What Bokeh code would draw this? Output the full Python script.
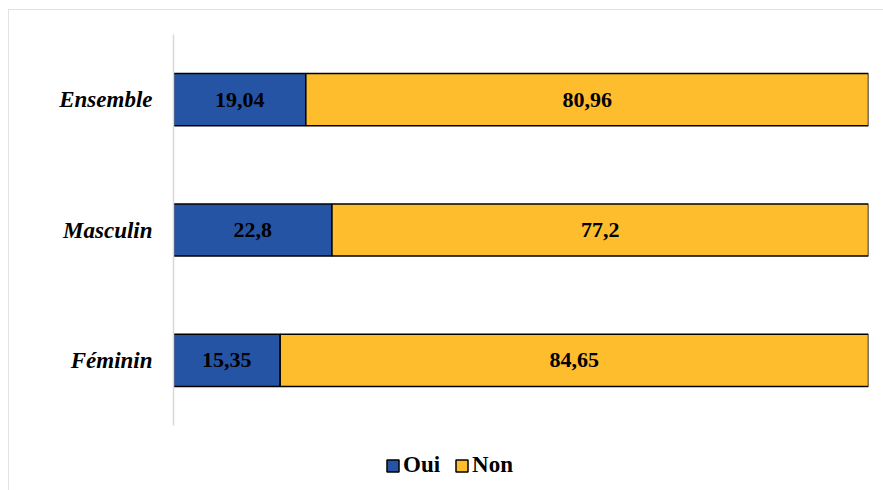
from bokeh.plotting import figure
from bokeh.models import ColumnDataSource, Legend, LegendItem, LabelSet, Range1d, FactorRange
from bokeh.layouts import column
from bokeh.embed import file_html
from bokeh.resources import INLINE

categories = ["Féminin", "Masculin", "Ensemble"]
oui = [15.35, 22.8, 19.04]
non = [84.65, 77.2, 80.96]
series = ["Oui", "Non"]
colors = ["#2554A4", "#FEBD2C"]

FONT = "Liberation Serif"

def fmt(v):
    s = ("%.2f" % v).rstrip("0").rstrip(".")
    return s.replace(".", ",")

src = ColumnDataSource(dict(
    cat=categories, Oui=oui, Non=non,
    oui_mid=[o / 2 for o in oui],
    non_mid=[o + n / 2 for o, n in zip(oui, non)],
    oui_lbl=[fmt(v) for v in oui],
    non_lbl=[fmt(v) for v in non],
))

p = figure(y_range=categories, x_range=(0, 100), width=874, height=420,
           output_backend="svg", toolbar_location=None,
           min_border_left=164, min_border_right=15, min_border_top=24, min_border_bottom=5)
p.outline_line_color = None

rs = p.hbar_stack(series, y="cat", height=0.4, color=colors, source=src,
                  line_color="black", line_width=1.5)

for xcol, tcol in (("oui_mid", "oui_lbl"), ("non_mid", "non_lbl")):
    p.add_layout(LabelSet(x=xcol, y="cat", text=tcol, source=src,
                          text_align="center", text_baseline="middle",
                          text_font=FONT, text_font_size="22px",
                          text_font_style="bold", text_color="black"))

p.xaxis.visible = False
p.xgrid.grid_line_color = None
p.ygrid.grid_line_color = None
p.yaxis.axis_line_color = "#d9d9d9"
p.yaxis.axis_line_width = 1.5
p.yaxis.major_tick_line_color = None
p.yaxis.minor_tick_line_color = None
p.yaxis.major_label_standoff = 15
p.yaxis.major_label_text_font = FONT
p.yaxis.major_label_text_font_size = "23px"
p.yaxis.major_label_text_font_style = "bold italic"
p.yaxis.major_label_text_color = "black"

# legend strip below the chart; its proxy bars use a factor range that shows none of them
lp = figure(width=874, height=60, output_backend="svg", toolbar_location=None,
            min_border_left=0, min_border_right=0, min_border_top=10, min_border_bottom=0,
            x_range=Range1d(200, 300), y_range=FactorRange("légende"))
lp.axis.visible = False
lp.grid.visible = False
lp.outline_line_color = None
lr = lp.hbar_stack(series, y="cat", height=0.4, color=colors, source=src,
                   line_color="black", line_width=1.5)
legend = Legend(items=[LegendItem(label=s, renderers=[r]) for s, r in zip(series, lr)],
                orientation="horizontal", location=(212, 12),
                label_text_font=FONT, label_text_font_size="23px",
                label_text_font_style="bold", label_text_color="black",
                glyph_width=15, glyph_height=15, label_standoff=3, spacing=14,
                border_line_color=None, background_fill_alpha=0, padding=2, margin=0)
lp.add_layout(legend, "center")

layout = column(p, lp, spacing=0,
                styles={"border-top": "1.5px solid #e3e3e3", "border-left": "1.5px solid #e3e3e3",
                        "margin-left": "8px", "margin-top": "9px"})

open("out.html", "w").write(file_html(layout, INLINE))
